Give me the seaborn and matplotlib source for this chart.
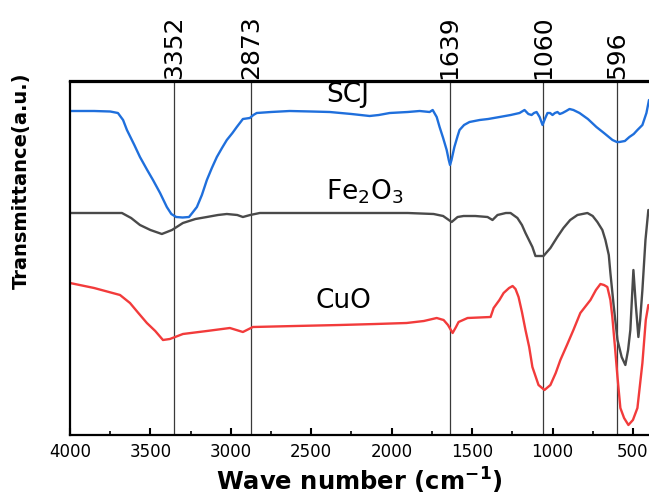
import numpy as np
import pandas as pd
import seaborn as sns
import matplotlib.pyplot as plt
from matplotlib.ticker import MultipleLocator

# Spectra (wave number in cm-1, transmittance in a.u.)
scj_wn = [4000, 3850, 3750, 3702, 3670, 3646, 3600, 3565, 3520, 3484, 3440, 3398, 3370, 3340,
          3300, 3260, 3240, 3211, 3180, 3149, 3118, 3087, 3055, 3025, 2990, 2963, 2925, 2882,
          2860, 2839, 2750, 2634, 2500, 2385, 2250, 2137, 2080, 2012, 1900, 1826, 1764, 1745,
          1720, 1702, 1680, 1658, 1645, 1637, 1628, 1610, 1590, 1578, 1550, 1516, 1453, 1400,
          1329, 1260, 1205, 1174, 1150, 1130, 1115, 1099, 1080, 1062, 1045, 1031, 1015, 1000,
          985, 969, 955, 938, 915, 894, 870, 832, 780, 727, 680, 627, 600, 584, 550, 522, 495,
          472, 441, 416, 400]
scj_t = [324, 324, 323.5, 322, 315, 305, 290, 278, 265, 255, 242, 228, 221, 218,
         217.5, 218, 222, 228, 240, 255, 267, 278, 287, 295, 302, 308, 316, 317,
         320, 322, 323, 324, 323.5, 323, 321, 319, 320, 322, 323, 324, 323, 325,
         318, 308, 297, 285, 275, 270, 275, 288, 299, 305, 310, 313, 315, 316,
         318, 320, 322, 325, 321, 320, 322, 323, 318, 310, 317, 322, 322, 320,
         322, 323, 321, 322, 324, 326, 325, 322, 316, 308, 302, 295, 293, 293, 294, 298, 301,
         305, 310, 322, 335]

fe_wn = [4000, 3800, 3677, 3620, 3565, 3500, 3429, 3366, 3298, 3220, 3149, 3080, 3025, 2960,
         2925, 2880, 2820, 2500, 2200, 1900, 1739, 1680, 1627, 1590, 1553, 1480, 1404, 1373,
         1342, 1290, 1261, 1218, 1190, 1168, 1125, 1106, 1080, 1056, 1013, 970, 932, 890, 845,
         783, 750, 721, 690, 671, 650, 640, 620, 596, 570, 547, 530, 516, 505, 497, 482, 466,
         455, 441, 422, 404]
fe_t = [222, 222, 222, 217, 210, 205, 201, 205, 212, 216, 218, 220, 221, 220,
        218, 220, 222, 222, 222, 222, 221, 219, 213, 218, 219, 219, 218, 215,
        220, 222, 222, 217, 210, 202, 188, 179, 179, 179, 187, 198, 207, 215, 220,
        222, 219, 213, 205, 195, 180, 162, 130, 95, 78, 70, 85, 105, 140, 165, 130, 98,
        115, 145, 195, 225]

cuo_wn = [4000, 3850, 3689, 3627, 3575, 3522, 3470, 3422, 3379, 3298, 3149, 3006, 2925, 2863,
          2600, 2323, 2100, 1907, 1800, 1720, 1677, 1650, 1621, 1600, 1584, 1528, 1385, 1366,
          1330, 1304, 1270, 1248, 1230, 1211, 1190, 1168, 1145, 1125, 1087, 1050, 1013, 980,
          951, 910, 870, 827, 764, 730, 702, 680, 659, 640, 628, 610, 596, 578, 555, 528, 500,
          472, 441, 420, 404]
cuo_t = [152, 147, 140, 132, 122, 112, 104, 95, 96, 101, 104, 107, 103, 108,
         109, 110, 111, 112, 114, 117, 115, 110, 102, 108, 113, 117, 118, 127,
         135, 142, 147, 149, 146, 138, 123, 105, 88, 68, 50, 45, 50, 62,
         75, 90, 105, 122, 135, 145, 151, 150, 148, 135, 118, 85, 58, 27, 17, 10, 15,
         27, 72, 115, 130]

samples = ['SCJ', 'Fe2O3', 'CuO']
colors = {'SCJ': '#1f6fdc', 'Fe2O3': '#4a4a4a', 'CuO': '#f23b3b'}
peaks = [3352, 2873, 1639, 1060, 596]
peak_labels = ['3352', '2873', '1639', '1060', '596']

df = pd.concat([
    pd.DataFrame({'wavenumber': scj_wn, 'transmittance': scj_t, 'sample': 'SCJ'}),
    pd.DataFrame({'wavenumber': fe_wn, 'transmittance': fe_t, 'sample': 'Fe2O3'}),
    pd.DataFrame({'wavenumber': cuo_wn, 'transmittance': cuo_t, 'sample': 'CuO'}),
])

sns.set_theme(style='ticks', rc={'axes.edgecolor': 'black', 'xtick.color': 'black',
                                 'text.color': 'black', 'axes.labelcolor': 'black'})
plt.rcParams['font.family'] = ['DejaVu Sans']
plt.rcParams['mathtext.default'] = 'regular'

fig = plt.figure(figsize=(6.49, 4.96), dpi=100)
ax = fig.add_axes([70 / 649, 1 - 435 / 496, 579 / 649, 353.5 / 496])

# reference lines at the assigned bands
for p in peaks:
    ax.axvline(p, color='#3a3a3a', lw=0.9, zorder=0)

sns.lineplot(data=df, x='wavenumber', y='transmittance', hue='sample', hue_order=samples,
             palette=colors, estimator=None, linewidth=1.7, legend=False, ax=ax)

ax.set_xlim(4000, 400)
ax.set_ylim(0, 353.5)
ax.xaxis.set_major_locator(MultipleLocator(500))
ax.xaxis.set_minor_locator(MultipleLocator(250))
ax.set_yticks([])
ax.tick_params(axis='x', which='major', direction='in', length=5, width=1.5, labelsize=12, pad=6)
ax.tick_params(axis='x', which='minor', direction='in', length=3, width=1.2)
for s in ['left', 'bottom', 'top']:
    ax.spines[s].set_linewidth(1.6)
ax.spines['right'].set_visible(False)

secax = ax.secondary_xaxis('top')
secax.set_xticks(peaks, labels=peak_labels)
secax.tick_params(length=0, labelrotation=90, labelsize=18, pad=2)
secax.spines['top'].set_linewidth(1.6)

ax.set_xlabel(r'Wave number (cm$^{\mathbf{-1}}$)', fontsize=17.5, fontweight='bold', labelpad=3)
ax.set_ylabel('Transmittance(a.u.)', fontsize=14, fontweight='bold')
ax.yaxis.set_label_coords(-0.067, 0.718)

ax.text(2273, 333, 'SCJ', ha='center', va='baseline', fontsize=19)
ax.text(2168, 235, 'Fe$_2$O$_3$', ha='center', va='baseline', fontsize=19)
ax.text(2298, 127, 'CuO', ha='center', va='baseline', fontsize=19)

fig.savefig('out.png', dpi=100)
